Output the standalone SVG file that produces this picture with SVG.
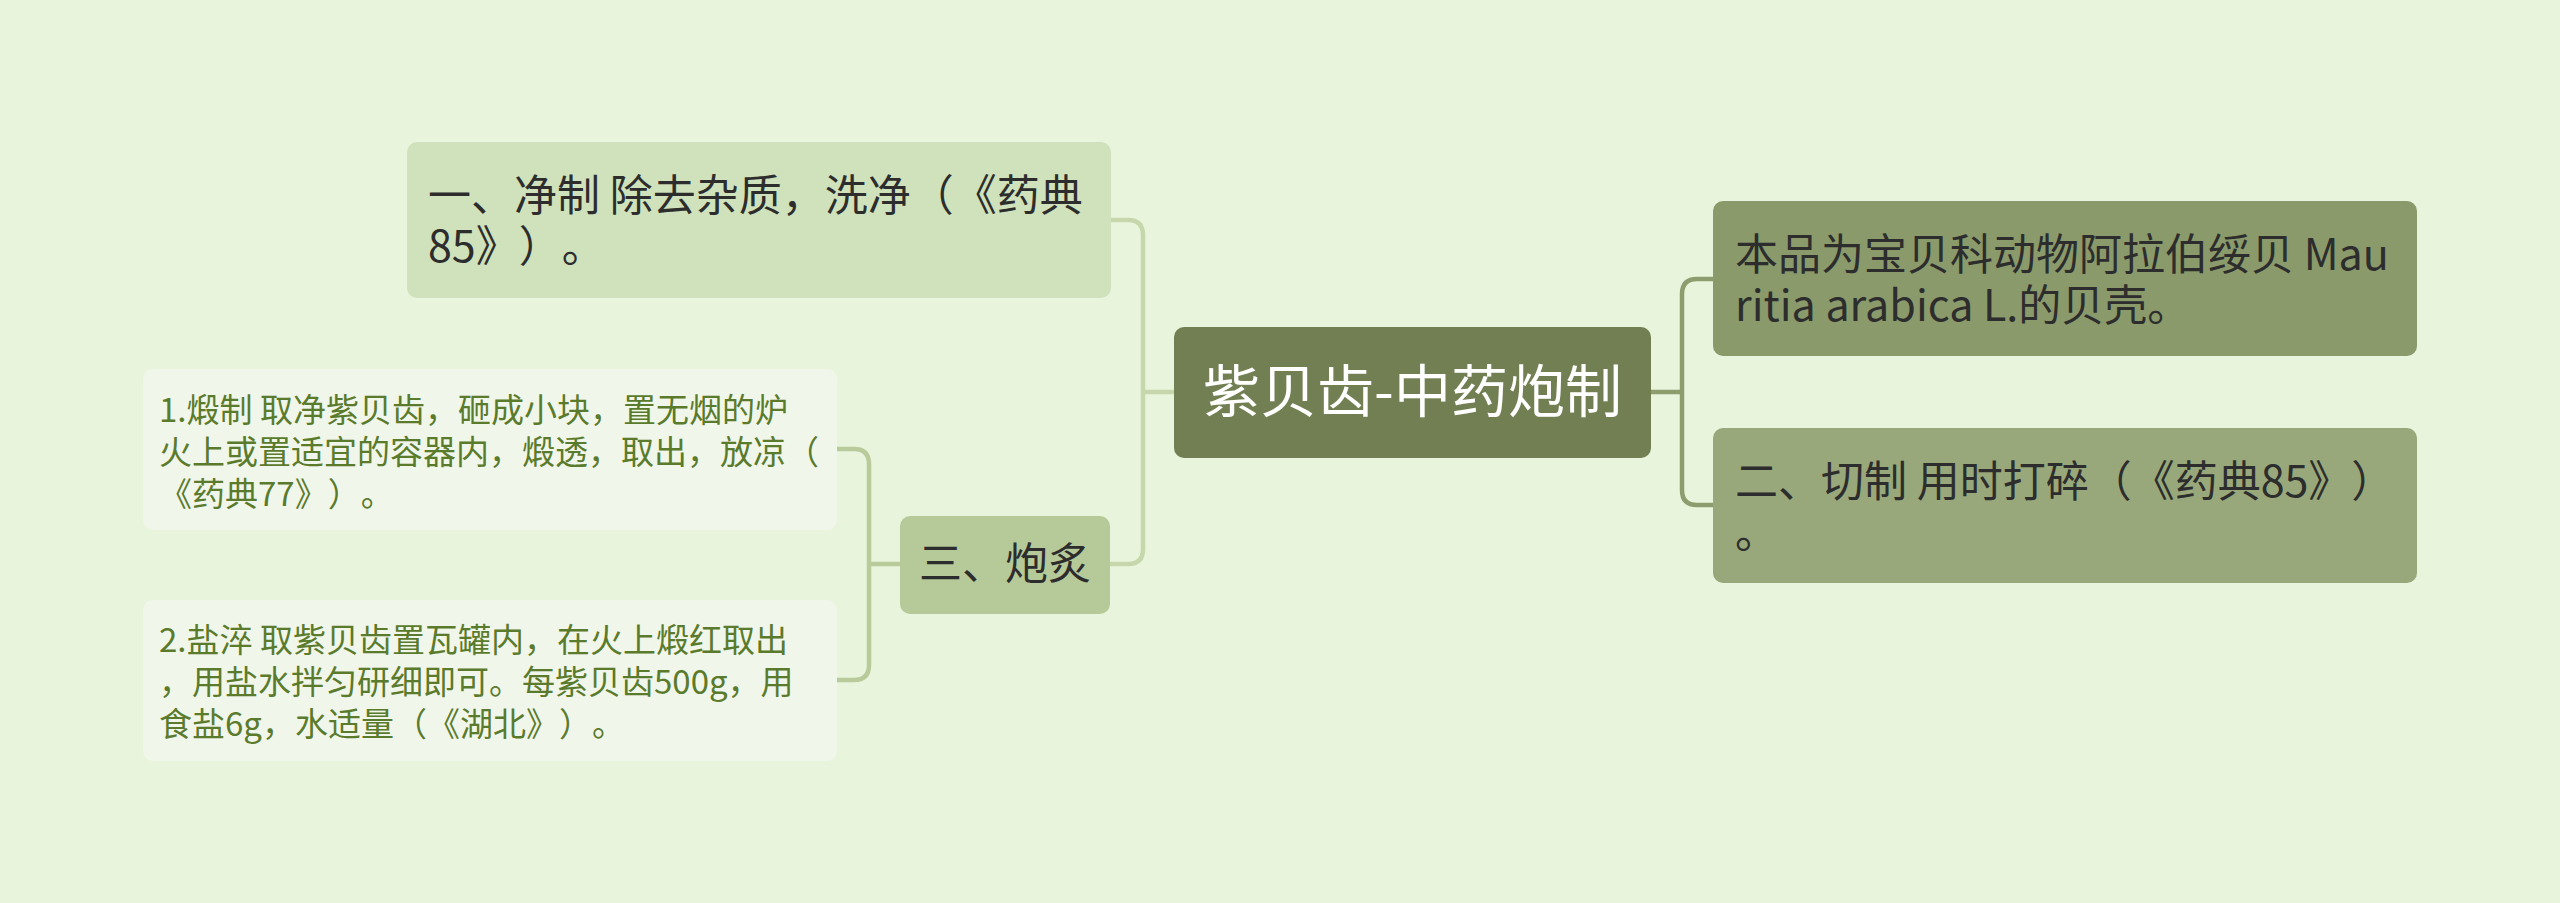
<svg xmlns="http://www.w3.org/2000/svg" width="2560" height="903" viewBox="0 0 2560 903">
<style>
text{font-family:"Noto Sans CJK SC","Noto Sans",sans-serif;text-spacing-trim:space-all;}
.t42{font-size:43px;fill:#2d2d2d;}
.t33{font-size:33px;fill:#5b7b2c;}
.c{fill:none;stroke-width:4.5;stroke-linecap:round;}
</style>
<rect width="2560" height="903" fill="#e8f5dc"/>
<g id="connectors">
<path class="c" stroke="#c5d7ab" d="M1174,392 H1143 M1111,220 H1128 Q1143,220 1143,235 V549 Q1143,564 1128,564 H1110"/>
<path class="c" stroke="#8d9d6d" d="M1651,392 H1682 M1713,279 H1697 Q1682,279 1682,294 V490 Q1682,505 1697,505 H1713"/>
<path class="c" stroke="#b9ca9b" d="M900,564 H869 M837,449 H854 Q869,449 869,464 V665 Q869,680 854,680 H837"/>
</g>
<g id="center">
<rect x="1174" y="327" width="477" height="131" rx="10" fill="#717f52"/>
<text x="1412.5" y="412" text-anchor="middle" font-size="57" fill="#ffffff">紫贝齿-中药炮制</text>
</g>
<g id="node-right-1">
<rect x="1713" y="201" width="704" height="155" rx="10" fill="#8a9a6b"/>
<text class="t42" x="1735" y="270">本品为宝贝科动物阿拉伯绥贝 Mau</text>
<text class="t42" x="1735" y="321">ritia arabica L.的贝壳。</text>
</g>
<g id="node-right-2">
<rect x="1713" y="428" width="704" height="155" rx="10" fill="#98a87b"/>
<text class="t42" x="1735" y="497">二、切制 用时打碎（《药典85》）</text>
<text class="t42" x="1735" y="548">。</text>
</g>
<g id="node-left-1">
<rect x="407" y="142" width="704" height="156" rx="10" fill="#cfe2bb"/>
<text class="t42" x="428" y="211">一、净制 除去杂质，洗净（《药典</text>
<text class="t42" x="428" y="262">85》）。</text>
</g>
<g id="node-left-3">
<rect x="900" y="516" width="210" height="98" rx="10" fill="#b6ca99"/>
<text class="t42" x="1005" y="579" text-anchor="middle">三、炮炙</text>
</g>
<g id="node-sub-1">
<rect x="143" y="369" width="694" height="161" rx="10" fill="#f1f6ea"/>
<text class="t33" x="159" y="422">1.煅制 取净紫贝齿，砸成小块，置无烟的炉</text>
<text class="t33" x="159" y="464">火上或置适宜的容器内，煅透，取出，放凉（</text>
<text class="t33" x="159" y="506">《药典77》）。</text>
</g>
<g id="node-sub-2">
<rect x="143" y="600" width="694" height="161" rx="10" fill="#f1f6ea"/>
<text class="t33" x="159" y="652">2.盐淬 取紫贝齿置瓦罐内，在火上煅红取出</text>
<text class="t33" x="159" y="694">，用盐水拌匀研细即可。每紫贝齿500g，用</text>
<text class="t33" x="159" y="736">食盐6g，水适量（《湖北》）。</text>
</g>
</svg>
